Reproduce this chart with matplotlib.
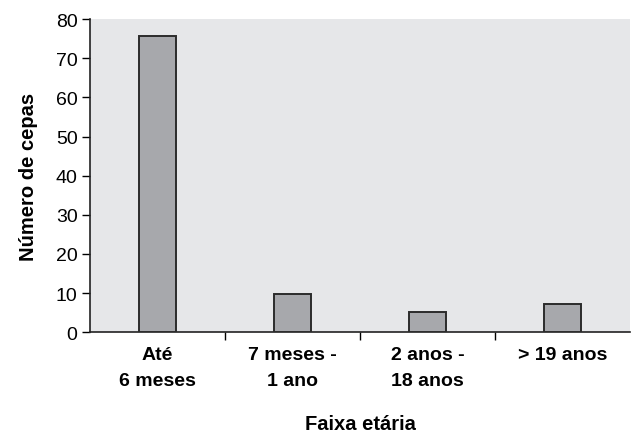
import matplotlib.pyplot as plt
import numpy as np

plt.rcParams['font.family'] = ['Liberation Sans', 'DejaVu Sans']

categories = ['Até\n6 meses', '7 meses -\n1 ano', '2 anos -\n18 anos', '> 19 anos']
counts = [75.6, 9.7, 5.3, 7.2]

fig = plt.figure(figsize=(6.32, 4.35), dpi=100)
ax = fig.add_axes([0.1424, 0.2338, 0.8544, 0.720])
ax.set_facecolor('#e6e7e9')

x = np.arange(len(categories))
ax.bar(x, counts, width=0.27, color='#a7a8ac', edgecolor='#2b2b2b', linewidth=1.4, zorder=3)

ax.set_ylim(0, 80)
ax.set_yticks(range(0, 81, 10))
ax.set_xlim(-0.5, 3.5)

# category labels without ticks, separator ticks between categories
ax.set_xticks(x)
ax.set_xticklabels(categories, fontsize=14, fontweight='bold', linespacing=1.7)
ax.tick_params(axis='x', length=0, pad=10)
ax.set_xticks([0.5, 1.5, 2.5], minor=True)
ax.tick_params(axis='x', which='minor', length=6, width=1, direction='out')
ax.tick_params(axis='y', labelsize=14, length=6, width=1, pad=3)

for s in ['top', 'right']:
    ax.spines[s].set_visible(False)
for s in ['left', 'bottom']:
    ax.spines[s].set_linewidth(1.2)
    ax.spines[s].set_color('#222222')

ax.set_ylabel('Número de cepas', fontsize=14.5, fontweight='bold', labelpad=13)
ax.set_xlabel('Faixa etária', fontsize=14.5, fontweight='bold')
ax.xaxis.set_label_coords(0.5, -0.262)

plt.savefig('out.png', dpi=100)
